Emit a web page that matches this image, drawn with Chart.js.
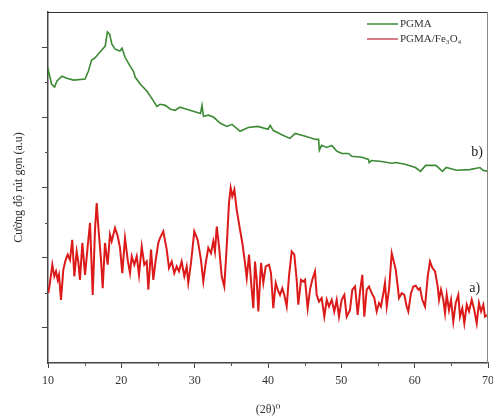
<!DOCTYPE html>
<html>
<head>
<meta charset="utf-8">
<script src="https://cdn.jsdelivr.net/npm/chart.js@4.4.0/dist/chart.umd.min.js"></script>
<style>
  html, body { margin: 0; padding: 0; background: #fff; }
  #wrap { width: 493px; height: 418px; }
</style>
</head>
<body>
<div id="wrap"><canvas id="xrdChart" width="493" height="418"></canvas></div>
<script>
// PGMA (curve b)
const pgmaTheta = [10.0,10.1,10.5,10.9,11.2,11.9,12.55,13.5,15.05,15.5,15.95,16.4,17.1,17.8,18.1,18.4,18.7,19.15,19.8,20.1,20.5,21.2,21.65,21.9,22.6,23.5,24.4,24.85,25.3,26.0,26.7,27.35,28.0,28.9,29.8,30.8,31.0,31.2,31.9,32.6,33.5,34.4,35.1,36.2,37.3,38.6,40.0,40.3,40.7,41.8,43.0,43.7,45.1,46.5,46.9,47.0,47.3,48.0,48.7,49.4,50.1,51.0,51.4,52.8,53.7,53.8,54.1,55.5,56.9,57.4,58.7,60.1,60.8,61.5,62.9,63.8,64.3,65.7,67.5,68.9,69.3,70.0];
const pgmaValue = [8.23,8.29,7.94,7.86,8.03,8.17,8.11,8.06,8.09,8.31,8.63,8.69,8.86,9.03,9.43,9.37,9.09,8.94,8.89,8.97,8.71,8.46,8.31,8.14,7.94,7.74,7.46,7.31,7.37,7.34,7.23,7.20,7.29,7.23,7.17,7.11,7.34,7.03,7.06,7.00,6.83,6.74,6.80,6.60,6.71,6.74,6.66,6.77,6.63,6.51,6.40,6.54,6.46,6.37,6.37,6.06,6.20,6.14,6.20,6.03,5.97,5.97,5.89,5.86,5.80,5.71,5.77,5.74,5.69,5.71,5.66,5.57,5.46,5.63,5.63,5.46,5.57,5.49,5.51,5.57,5.49,5.46];

// PGMA/Fe3O4 (curve a)
const compTheta = [10.04,10.27,10.59,10.86,11.09,11.32,11.50,11.77,12.09,12.41,12.69,13.00,13.31,13.59,13.91,14.13,14.36,14.68,15.05,15.41,15.73,16.10,16.41,16.64,16.86,17.23,17.46,17.77,18.14,18.45,18.69,19.14,19.51,19.82,20.13,20.50,20.87,21.18,21.41,21.77,22.10,22.41,22.78,23.13,23.46,23.68,24.05,24.36,24.69,25.04,25.27,25.72,26.19,26.50,26.87,27.22,27.55,27.86,28.23,28.59,28.91,29.13,29.50,29.95,30.41,30.86,31.18,31.51,31.86,32.23,32.54,32.77,33.01,33.32,33.69,34.04,34.37,34.68,34.91,35.13,35.41,35.73,36.18,36.50,36.86,37.10,37.41,37.78,38.00,38.23,38.46,38.68,39.05,39.36,39.69,40.14,40.41,40.72,41.05,41.32,41.64,41.95,42.22,42.55,42.86,43.23,43.59,43.91,44.13,44.50,44.81,45.05,45.41,45.73,46.04,46.41,46.64,46.96,47.32,47.68,48.01,48.32,48.69,49.04,49.37,49.68,50.05,50.41,50.73,51.18,51.50,51.87,52.23,52.55,52.86,53.13,53.46,53.77,54.14,54.50,54.82,55.14,55.41,55.73,55.95,56.19,56.50,56.87,57.09,57.42,57.69,57.86,58.23,58.59,58.91,59.13,59.50,59.82,60.14,60.50,60.73,61.04,61.41,61.78,62.09,62.41,62.78,63.14,63.32,63.59,63.91,64.14,64.37,64.68,64.96,65.27,65.60,65.95,66.18,66.50,66.77,67.10,67.41,67.78,68.13,68.46,68.77,69.05,69.36,69.59,69.96];
const compValue = [1.99,2.29,2.80,2.47,2.61,2.37,2.51,1.80,2.66,2.94,3.09,2.94,3.51,2.47,3.18,2.89,2.37,3.42,2.51,3.32,3.99,1.94,3.80,4.56,3.89,2.94,2.13,3.42,2.80,3.66,3.47,3.85,3.61,3.28,2.56,3.56,2.94,2.56,3.04,2.80,3.04,2.51,3.32,2.80,2.89,2.09,3.23,2.37,2.94,3.42,3.56,3.75,3.23,2.71,2.89,2.56,2.75,2.61,2.89,2.47,2.75,2.28,2.85,3.75,3.51,2.94,2.32,2.85,3.28,3.13,3.47,3.18,3.89,3.32,2.47,2.18,3.32,4.56,4.99,4.75,4.94,4.37,3.80,3.42,2.85,2.42,3.09,2.09,1.56,2.89,2.37,1.47,2.85,2.28,2.75,2.80,2.56,1.56,2.28,2.09,1.94,2.13,1.94,1.61,2.47,3.18,3.09,2.37,1.66,2.37,2.32,2.37,1.56,2.09,2.37,2.61,1.94,1.75,1.85,1.32,1.80,1.61,1.80,1.47,1.80,1.32,1.80,1.94,1.32,1.51,2.09,2.18,1.37,2.04,2.51,1.32,2.09,2.18,1.99,1.85,1.47,1.71,1.61,1.99,2.28,1.61,2.09,3.13,2.94,2.66,2.18,1.85,1.99,1.94,1.61,1.47,1.99,2.18,2.20,2.09,2.13,1.80,1.61,2.47,2.89,2.71,2.61,2.18,1.80,2.09,1.80,1.42,1.94,1.51,1.80,1.18,1.71,1.94,1.32,1.56,1.13,1.66,1.47,1.80,1.51,1.13,1.71,1.47,1.66,1.32,1.37];

const xMajorTicks = [10, 20, 30, 40, 50, 60, 70];
const xMinorTicks = [15, 25, 35, 45, 55, 65];
const yMajorTicks = [1, 3, 5, 7, 9];
const yMinorTicks = [2, 4, 6, 8];

const curveLabels = [
  { text: 'b)', x: 68.5, y: 6.0 },
  { text: 'a)', x: 68.2, y: 2.14 }
];

const serif = '"Liberation Serif", "DejaVu Serif", serif';

function toPoints(xs, ys) {
  return xs.map((x, i) => ({ x: x, y: ys[i] }));
}

// minor ticks, frame, curve labels and legend inside the plot
const extras = {
  id: 'extras',
  afterDraw(chart) {
    const ctx = chart.ctx;
    const area = chart.chartArea;
    const xs = chart.scales.x;
    const ys = chart.scales.y;
    ctx.save();

    ctx.strokeStyle = '#555';
    ctx.lineWidth = 1;
    xMinorTicks.forEach(v => {
      const px = Math.round(xs.getPixelForValue(v)) + 0.5;
      ctx.beginPath();
      ctx.moveTo(px, area.bottom);
      ctx.lineTo(px, area.bottom + 3);
      ctx.stroke();
    });
    yMinorTicks.forEach(v => {
      const py = Math.round(ys.getPixelForValue(v)) + 0.5;
      ctx.beginPath();
      ctx.moveTo(area.left, py);
      ctx.lineTo(area.left - 3, py);
      ctx.stroke();
    });

    // top and right frame
    ctx.strokeStyle = '#333';
    ctx.beginPath();
    ctx.moveTo(area.left, area.top + 0.5);
    ctx.lineTo(area.right, area.top + 0.5);
    ctx.stroke();
    ctx.strokeStyle = '#888';
    ctx.beginPath();
    ctx.moveTo(area.right - 0.5, area.top);
    ctx.lineTo(area.right - 0.5, area.bottom);
    ctx.stroke();

    ctx.fillStyle = '#222';
    ctx.font = '14px ' + serif;
    ctx.textAlign = 'center';
    ctx.textBaseline = 'middle';
    curveLabels.forEach(l => {
      ctx.fillText(l.text, xs.getPixelForValue(l.x), ys.getPixelForValue(l.y));
    });

    // legend
    ctx.font = '11px ' + serif;
    ctx.textAlign = 'left';
    chart.data.datasets.forEach((ds, i) => {
      const y = area.top + 12 + i * 15;
      ctx.strokeStyle = ds.legendColor;
      ctx.lineWidth = 1.5;
      ctx.beginPath();
      ctx.moveTo(area.right - 121, y);
      ctx.lineTo(area.right - 90, y);
      ctx.stroke();
      ctx.fillStyle = '#333';
      ctx.fillText(ds.label, area.right - 88, y);
    });
    ctx.restore();
  }
};

const ctx = document.getElementById('xrdChart').getContext('2d');
new Chart(ctx, {
  type: 'line',
  data: {
    datasets: [
      {
        label: 'PGMA',
        data: toPoints(pgmaTheta, pgmaValue),
        borderColor: '#3b8a33',
        legendColor: '#3b8a33',
        borderWidth: 1.6,
        pointRadius: 0,
        tension: 0
      },
      {
        label: 'PGMA/Fe₃O₄',
        data: toPoints(compTheta, compValue),
        borderColor: '#dc1a1a',
        legendColor: '#c8505c',
        borderWidth: 2,
        pointRadius: 0,
        tension: 0
      }
    ]
  },
  options: {
    responsive: false,
    animation: false,
    layout: { padding: { top: 12, right: 5, left: 0, bottom: 0 } },
    plugins: {
      legend: { display: false },
      tooltip: { enabled: false }
    },
    scales: {
      x: {
        type: 'linear',
        min: 10,
        max: 70,
        afterBuildTicks: s => { s.ticks = xMajorTicks.map(v => ({ value: v })); },
        afterFit: s => { s.height = 55; s.paddingLeft = 0; s.paddingRight = 0; },
        border: { color: '#444', width: 1.5 },
        grid: { drawOnChartArea: false, color: '#444', tickLength: 5 },
        ticks: {
          color: '#333',
          padding: 6,
          maxRotation: 0,
          font: { family: serif, size: 12 }
        },
        title: {
          display: true,
          text: '(2θ)⁰',
          color: '#333',
          padding: { top: 4, bottom: 1 },
          font: { family: serif, size: 12 }
        }
      },
      y: {
        type: 'linear',
        min: 0,
        max: 10,
        afterBuildTicks: s => { s.ticks = yMajorTicks.map(v => ({ value: v })); },
        afterFit: s => { s.width = 48; s.paddingTop = 0; s.paddingBottom = 0; },
        border: { color: '#444', width: 1.5 },
        grid: { drawOnChartArea: false, color: '#444', tickLength: 6 },
        ticks: { display: false },
        title: {
          display: true,
          text: 'Cường độ rút gọn (a.u)',
          color: '#333',
          padding: { top: 12, bottom: 0 },
          font: { family: serif, size: 12 }
        }
      }
    }
  },
  plugins: [extras]
});
</script>
</body>
</html>
